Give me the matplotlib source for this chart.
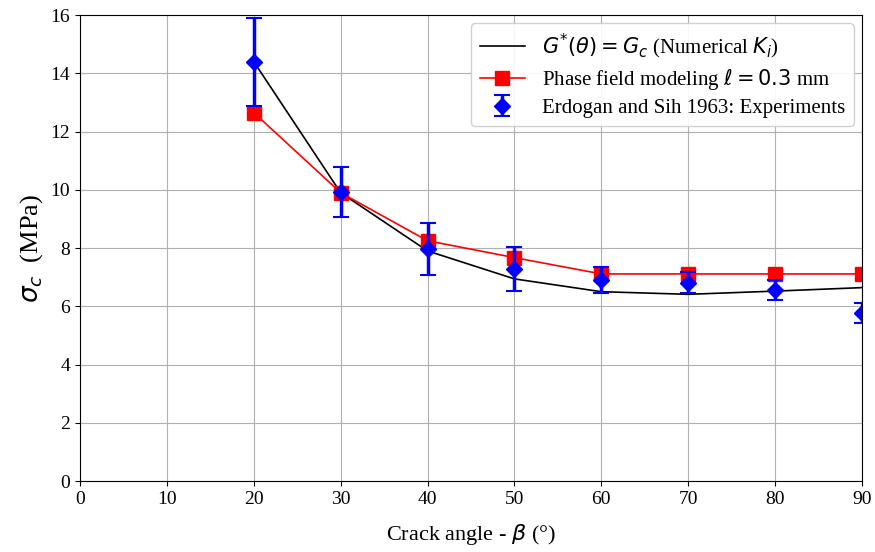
import matplotlib
matplotlib.use("Agg")
import matplotlib.pyplot as plt

plt.rcParams['font.family'] = ['Liberation Serif', 'DejaVu Serif']
plt.rcParams['mathtext.fontset'] = 'dejavusans'

angles = [20, 30, 40, 50, 60, 70, 80, 90]
numerical = [14.4, 9.9, 7.9, 6.94, 6.5, 6.41, 6.52, 6.64]
phase_field = [12.65, 9.9, 8.25, 7.67, 7.11, 7.11, 7.11, 7.11]
exp_mean = [14.39, 9.92, 7.97, 7.28, 6.9, 6.81, 6.56, 5.76]
exp_err = [1.5, 0.85, 0.9, 0.75, 0.46, 0.35, 0.35, 0.35]

fig = plt.figure(figsize=(8.75, 5.52), dpi=100)
ax = fig.add_axes([0.0914, 0.1286, 0.8937, 0.8442])

ax.plot(angles, numerical, color='black', lw=1.2,
        label=r'$G^{*}(\theta) = G_c$ (Numerical $K_i$)')
ax.plot(angles, phase_field, color='red', lw=1.2, marker='s', ms=9.5,
        label=r'Phase field modeling $\ell = 0.3$ mm')
ax.errorbar(angles, exp_mean, yerr=exp_err, fmt='D', color='blue', ms=8,
            elinewidth=2.5, capsize=6, capthick=1.5,
            label='Erdogan and Sih 1963: Experiments')

ax.set_xlim(0, 90)
ax.set_ylim(0, 16)
ax.set_xticks(range(0, 91, 10))
ax.set_yticks(range(0, 17, 2))
ax.tick_params(labelsize=14)
ax.grid(True, color='#b0b0b0', lw=0.8)
ax.set_axisbelow(True)
ax.set_xlabel(r'Crack angle - $\beta$ (°)', fontsize=16, labelpad=10)
ax.set_ylabel(r'$\sigma_c$  (MPa)', fontsize=19)
ax.legend(loc='upper right', fontsize=15, framealpha=0.9,
          labelspacing=0.3, borderaxespad=0.4, handlelength=2.2)

fig.savefig('out.png', dpi=100)
